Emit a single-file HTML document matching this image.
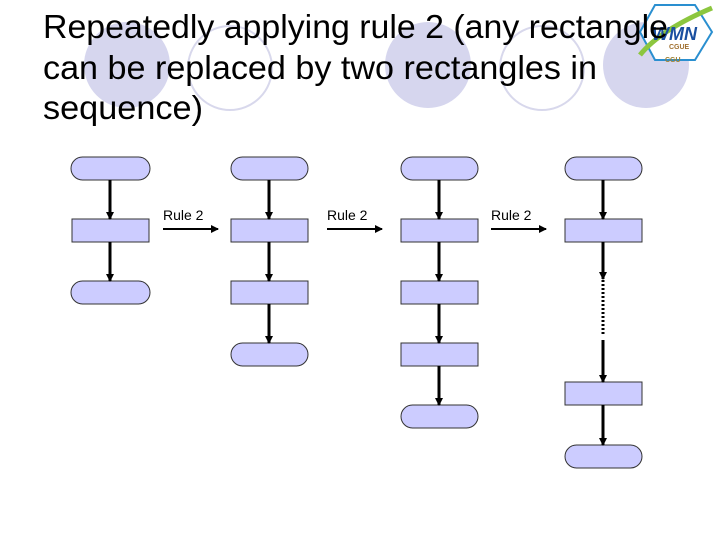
<!DOCTYPE html>
<html><head><meta charset="utf-8"><style>
body{margin:0;width:720px;height:540px;background:#fff;overflow:hidden}
</style></head><body>
<svg width="720" height="540" xmlns="http://www.w3.org/2000/svg" style="position:absolute;left:0;top:0">
<defs>
<marker id="a" markerWidth="8" markerHeight="8" refX="7" refY="4" orient="auto" markerUnits="userSpaceOnUse"><path d="M0,0 L8,4 L0,8 Z" fill="#000"/></marker>
</defs>
<circle cx="127" cy="65" r="43" fill="#d6d6ee"/>
<circle cx="230" cy="68" r="42" fill="none" stroke="#d8d8ec" stroke-width="2"/>
<circle cx="428" cy="65" r="43" fill="#d6d6ee"/>
<circle cx="542" cy="68" r="42" fill="none" stroke="#d8d8ec" stroke-width="2"/>
<circle cx="646" cy="65" r="43" fill="#d6d6ee"/>
<polygon points="655,5 695,5 712,32 695,60 655,60 640,32" fill="#fff" stroke="#2a8fd0" stroke-width="2"/>
<path d="M640,55 Q660,30 712,8" fill="none" stroke="#8cc63f" stroke-width="5"/>
<text x="652" y="40" font-family="Liberation Sans,sans-serif" font-size="18" font-weight="bold" font-style="italic" fill="#1a4fa0">WMN</text>
<text x="669" y="49" font-family="Liberation Sans,sans-serif" font-size="7" font-weight="bold" fill="#a07030">CGUE</text>
<text x="665" y="62" font-family="Liberation Sans,sans-serif" font-size="7" font-weight="bold" fill="#a08030">CGU</text>
<g font-family="Liberation Sans,sans-serif" font-size="33" fill="#000">
<text x="43" y="38" textLength="625" lengthAdjust="spacingAndGlyphs">Repeatedly applying rule 2 (any rectangle</text>
<text x="43" y="79" textLength="554" lengthAdjust="spacingAndGlyphs">can be replaced by two rectangles in</text>
<text x="43" y="119" textLength="160" lengthAdjust="spacingAndGlyphs">sequence)</text>
</g>
<g fill="#ccccff" stroke="#333" stroke-width="1">
<rect x="71" y="157" width="79" height="23" rx="11.5"/>
<rect x="72" y="219" width="77" height="23"/>
<rect x="71" y="281" width="79" height="23" rx="11.5"/>
<rect x="231" y="157" width="77" height="23" rx="11.5"/>
<rect x="231" y="219" width="77" height="23"/>
<rect x="231" y="281" width="77" height="23"/>
<rect x="231" y="343" width="77" height="23" rx="11.5"/>
<rect x="401" y="157" width="77" height="23" rx="11.5"/>
<rect x="401" y="219" width="77" height="23"/>
<rect x="401" y="281" width="77" height="23"/>
<rect x="401" y="343" width="77" height="23"/>
<rect x="401" y="405" width="77" height="23" rx="11.5"/>
<rect x="565" y="157" width="77" height="23" rx="11.5"/>
<rect x="565" y="219" width="77" height="23"/>
<rect x="565" y="382" width="77" height="23"/>
<rect x="565" y="445" width="77" height="23" rx="11.5"/>
</g>
<g stroke="#000" stroke-width="3" marker-end="url(#a)">
<line x1="110" y1="180" x2="110" y2="219"/>
<line x1="110" y1="242" x2="110" y2="281"/>
<line x1="269" y1="180" x2="269" y2="219"/>
<line x1="269" y1="242" x2="269" y2="281"/>
<line x1="269" y1="304" x2="269" y2="343"/>
<line x1="439" y1="180" x2="439" y2="219"/>
<line x1="439" y1="242" x2="439" y2="281"/>
<line x1="439" y1="304" x2="439" y2="343"/>
<line x1="439" y1="366" x2="439" y2="405"/>
<line x1="603" y1="180" x2="603" y2="219"/>
<line x1="603" y1="242" x2="603" y2="279"/>
<line x1="603" y1="340" x2="603" y2="382"/>
<line x1="603" y1="405" x2="603" y2="445"/>
</g>
<line x1="603" y1="280" x2="603" y2="336" stroke="#000" stroke-width="3" stroke-dasharray="2,2"/>
<g stroke="#000" stroke-width="2" marker-end="url(#a)">
<line x1="163" y1="229" x2="218" y2="229"/>
<line x1="327" y1="229" x2="382" y2="229"/>
<line x1="491" y1="229" x2="546" y2="229"/>
</g>
<g font-family="Liberation Sans,sans-serif" font-size="14" fill="#000">
<text x="163" y="220">Rule 2</text>
<text x="327" y="220">Rule 2</text>
<text x="491" y="220">Rule 2</text>
</g>
</svg>
</body></html>
